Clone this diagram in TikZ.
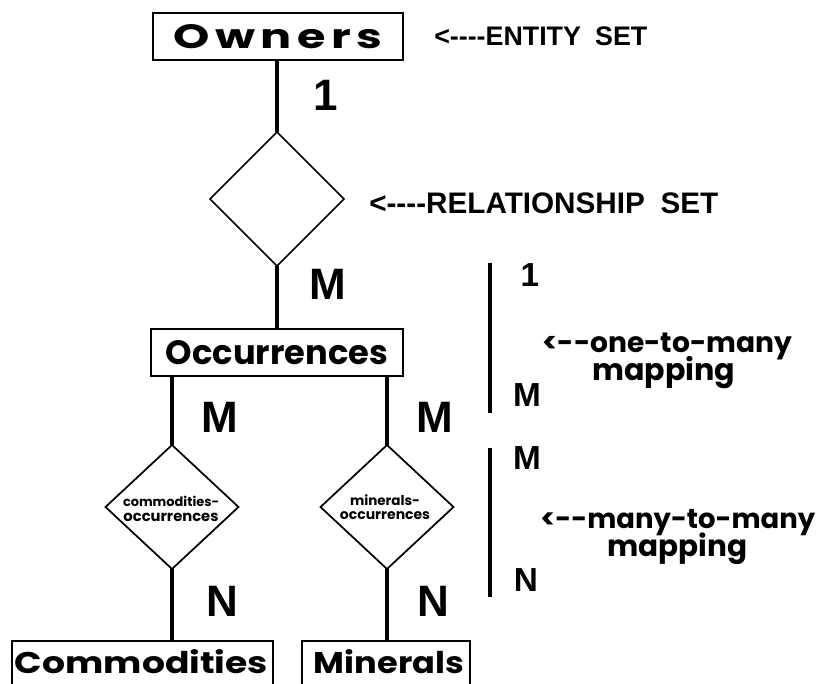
\documentclass[tikz,border=0pt]{standalone}
\usepackage{fontspec}
\usepackage{graphicx}
\usetikzlibrary{shapes.geometric}
\newfontfamily\pop{Poppins}
\newfontfamily\lib{Liberation Sans}
\newlength\px \setlength\px{0.75pt}
\newcommand\fit[3]{\resizebox{#1\px}{#2\px}{#3}}
\newcommand\fitw[2]{\resizebox{#1\px}{!}{#2}}
\newcommand\hy{\mbox{-}}
\begin{document}
\begin{tikzpicture}[x=0.75pt,y=-0.75pt,
  ebox/.style={draw, line width=1.5pt, inner sep=0pt, outer sep=0pt},
  rel/.style={draw, diamond, aspect=1, line width=1.3pt, inner sep=0pt, outer sep=0pt},
  conn/.style={line width=2.4pt},
  bar/.style={line width=3pt},
  card/.style={inner sep=0pt, font=\fontsize{33pt}{33pt}\selectfont\lib\bfseries},
  sidecard/.style={inner sep=0pt, font=\fontsize{25pt}{25pt}\selectfont\lib\bfseries},
  note/.style={inner sep=0pt},
  reltext/.style={inner sep=0pt, align=center, font=\pop\bfseries}
]
\useasboundingbox (0,0) rectangle (821,684);
\clip (0,0) rectangle (821,684);

% entity and relationship nodes
\node[ebox, minimum width=250\px, minimum height=47\px] (own) at (278,36.5)
  {\fit{209}{24}{\pop\bfseries\addfontfeatures{LetterSpace=12}Owners}};
\node[rel, minimum width=134\px, minimum height=134\px] (r1) at (277,199) {};
\node[ebox, minimum width=252\px, minimum height=47\px] (occ) at (277,352.5)
  {\fit{222}{24}{\pop\bfseries Occurrences}};
\node[rel, minimum width=133\px, minimum height=124\px] (r2) at (172,507) {};
\node[rel, minimum width=133\px, minimum height=124\px] (r3) at (387,507) {};
\node[reltext] (r2t) at (171,509) {\fitw{96}{commodities-}\\[-1pt]\fitw{95}{occurrences}};
\node[reltext] (r3t) at (385,507) {\fitw{70}{minerals-}\\[-1pt]\fitw{90}{occurrences}};
\node[ebox, anchor=north, minimum width=261\px, minimum height=80\px] (comm) at (142.5,641) {};
\node[inner sep=0pt] (commt) at (141.5,662) {\fit{253}{24}{\pop\bfseries Commodities}};
\node[ebox, anchor=north, minimum width=168\px, minimum height=80\px] (min) at (386,641) {};
\node[inner sep=0pt] (mint) at (389,662) {\fit{150}{24}{\pop\bfseries Minerals}};

% connectors
\draw[conn] (own.south -| r1.north) -- (r1.north);
\draw[conn] (r1.south) -- (occ.north -| r1.south);
\draw[conn] (r2.north |- occ.south) -- (r2.north);
\draw[conn] (r3.north |- occ.south) -- (r3.north);
\draw[conn] (r2.south) -- (r2.south |- comm.north);
\draw[conn] (r3.south) -- (r3.south |- min.north);

% cardinalities
\node[card] (c1) at (326,95) {1};
\node[card] (c2) at (328,284) {M};
\node[card] (c3) at (220,417) {M};
\node[card] (c4) at (435,417) {M};
\node[card] (c5) at (222,601) {N};
\node[card] (c6) at (433,601) {N};

% annotations
\node[note, anchor=west] (ent) at (434,36)
  {\fitw{213}{\lib\bfseries <\hy\hy\hy\hy ENTITY\hspace{0.25em} SET}};
\node[note, anchor=west] (rels) at (369,203)
  {\fitw{349}{\lib\bfseries <\hy\hy\hy\hy RELATIONSHIP\hspace{0.25em} SET}};

\draw[bar] (490,263) -- (490,413);
\draw[bar] (490,448) -- (490,597);
\node[sidecard] (s1) at (530,275) {1};
\node[sidecard] (s2) at (527,395) {M};
\node[sidecard] (s3) at (527,458) {M};
\node[sidecard] (s4) at (526,580) {N};

\node[note, anchor=base west] (om1) at (542,352)
  {\fitw{250}{\pop\bfseries <\hy\hy one-to-many}};
\node[note, anchor=base west] (om2) at (592,380)
  {\fitw{143}{\pop\bfseries mapping}};
\node[note, anchor=base west] (mm1) at (540,528)
  {\fitw{275}{\pop\bfseries <\hy\hy many-to-many}};
\node[note, anchor=base west] (mm2) at (607,556)
  {\fitw{140}{\pop\bfseries mapping}};
\end{tikzpicture}
\end{document}
